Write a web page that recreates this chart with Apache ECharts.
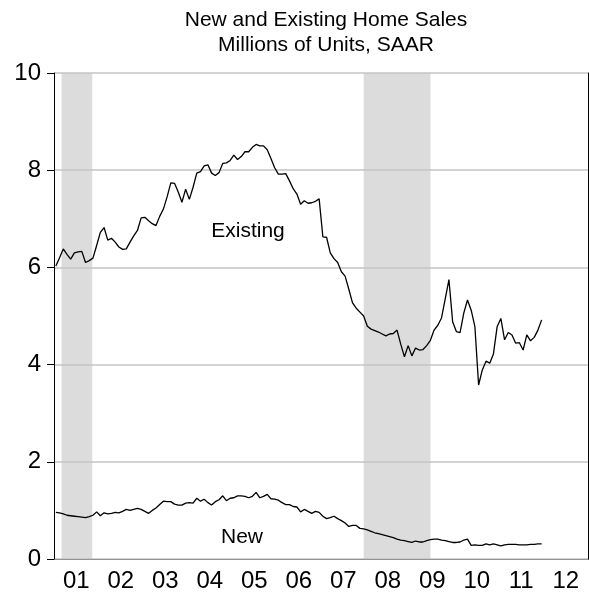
<!DOCTYPE html>
<html>
<head>
<meta charset="utf-8">
<script src="https://cdn.jsdelivr.net/npm/echarts@6/dist/echarts.min.js"></script>
<style>
  html, body { margin: 0; padding: 0; background: #fff; }
  #output { width: 589px; height: 597px; }
</style>
</head>
<body>
<div id="output"></div>
<script>
const chart = echarts.init(document.getElementById('output'));

// year labels on the x axis (one per calendar year)
const yearLabels = ['01', '02', '03', '04', '05', '06', '07', '08', '09', '10', '11', '12'];
const firstYear = 2001;

// existing home sales, monthly Jan 2001 - Dec 2011, millions SAAR
const existing = [
  6.03, 6.20, 6.38, 6.27, 6.17, 6.30, 6.32, 6.33, 6.10, 6.14, 6.19, 6.45,
  6.72, 6.82, 6.56, 6.60, 6.52, 6.42, 6.37, 6.38, 6.52, 6.65, 6.76, 7.02,
  7.03, 6.96, 6.90, 6.86, 7.05, 7.20, 7.45, 7.74, 7.73, 7.55, 7.34, 7.61,
  7.40, 7.65, 7.94, 7.97, 8.09, 8.11, 7.94, 7.89, 7.95, 8.14, 8.15, 8.20,
  8.31, 8.22, 8.28, 8.38, 8.38, 8.47, 8.53, 8.50, 8.50, 8.42, 8.24, 8.05,
  7.92, 7.92, 7.93, 7.78, 7.62, 7.51, 7.30, 7.37, 7.32, 7.33, 7.36, 7.41,
  6.63, 6.62, 6.30, 6.18, 6.10, 5.91, 5.82, 5.55, 5.27, 5.16, 5.08, 5.00,
  4.79, 4.73, 4.70, 4.67, 4.63, 4.59, 4.63, 4.64, 4.71, 4.42, 4.16, 4.39,
  4.18, 4.34, 4.30, 4.31, 4.39, 4.50, 4.71, 4.81, 4.96, 5.35, 5.75, 4.88,
  4.68, 4.66, 5.06, 5.33, 5.12, 4.78, 3.58, 3.89, 4.07, 4.03, 4.22, 4.78,
  4.95, 4.51, 4.66, 4.61, 4.44, 4.45, 4.30, 4.61, 4.49, 4.56, 4.71, 4.92
];

// new home sales, monthly Jan 2001 - Dec 2011, millions SAAR
const newSales = [
  0.96, 0.95, 0.93, 0.90, 0.89, 0.88, 0.87, 0.86, 0.85, 0.87, 0.90, 0.97,
  0.89, 0.95, 0.93, 0.94, 0.96, 0.95, 0.98, 1.02, 1.00, 1.02, 1.04, 1.02,
  0.98, 0.94, 1.00, 1.05, 1.12, 1.19, 1.18, 1.18, 1.13, 1.11, 1.11, 1.15,
  1.16, 1.15, 1.25, 1.19, 1.23, 1.16, 1.11, 1.18, 1.22, 1.30, 1.20, 1.25,
  1.26, 1.30, 1.30, 1.29, 1.26, 1.29, 1.37, 1.26, 1.29, 1.33, 1.24, 1.23,
  1.21, 1.16, 1.12, 1.12, 1.08, 1.07, 0.97, 1.02, 0.98, 0.94, 0.98, 0.96,
  0.88, 0.83, 0.85, 0.88, 0.83, 0.79, 0.74, 0.67, 0.69, 0.69, 0.63, 0.62,
  0.60, 0.57, 0.54, 0.52, 0.50, 0.48, 0.46, 0.44, 0.41, 0.39, 0.38, 0.36,
  0.34, 0.37, 0.35, 0.35, 0.38, 0.40, 0.41, 0.41, 0.39, 0.38, 0.36, 0.34,
  0.34, 0.35, 0.39, 0.41, 0.28, 0.29, 0.28, 0.28, 0.31, 0.29, 0.31, 0.29,
  0.27, 0.29, 0.30, 0.30, 0.30, 0.29, 0.29, 0.29, 0.30, 0.30, 0.31, 0.31
];

// recessions (decimal years)
const recessions = [[2001.17, 2001.86], [2007.96, 2009.46]];

function toPoints (values) {
  return values.map((v, i) => [firstYear + (i + 0.5) / 12, v]);
}

const font = 'Liberation Sans, Arial, sans-serif';

chart.setOption({
  animation: false,
  title: {
    text: 'New and Existing Home Sales\nMillions of Units, SAAR',
    left: 321,
    textAlign: 'center',
    top: 3,
    textStyle: { fontFamily: font, fontSize: 21, fontWeight: 'normal', color: '#000', lineHeight: 25 }
  },
  grid: { left: 54, right: 1, top: 73, bottom: 38 },
  xAxis: [
    {
      type: 'category',
      data: yearLabels,
      boundaryGap: true,
      axisLine: { lineStyle: { color: '#000', width: 1 } },
      axisTick: { length: 7, interval: 0, lineStyle: { color: '#000' } },
      axisLabel: { fontFamily: font, fontSize: 24, color: '#000', margin: 10, interval: 0 },
      splitLine: { show: false }
    },
    {
      type: 'value',
      min: 2001,
      max: 2013,
      show: false
    }
  ],
  yAxis: [
    {
      type: 'value',
      min: 0,
      max: 10,
      interval: 2,
      z: 3,
      axisLine: { show: true, lineStyle: { color: '#000', width: 1 } },
      axisTick: { show: true, length: 7, lineStyle: { color: '#000' } },
      axisLabel: { fontFamily: font, fontSize: 24, color: '#000', margin: 13 },
      splitLine: { lineStyle: { color: '#c4c4c4', width: 1.5 } }
    },
    {
      type: 'value',
      position: 'right',
      min: 0,
      max: 10,
      axisLine: { show: true, lineStyle: { color: '#000', width: 1 } },
      axisTick: { show: false },
      axisLabel: { show: false },
      splitLine: { show: false }
    }
  ],
  series: [
    {
      name: 'recessions',
      type: 'line',
      xAxisIndex: 1,
      data: [],
      z: 1,
      markArea: {
        silent: true,
        itemStyle: { color: '#dcdcdc' },
        data: recessions.map(r => [{ xAxis: r[0] }, { xAxis: r[1] }])
      }
    },
    {
      name: 'Existing',
      type: 'line',
      xAxisIndex: 1,
      data: toPoints(existing),
      showSymbol: false,
      z: 5,
      lineStyle: { color: '#000', width: 1.3 }
    },
    {
      name: 'New',
      type: 'line',
      xAxisIndex: 1,
      data: toPoints(newSales),
      showSymbol: false,
      z: 5,
      lineStyle: { color: '#000', width: 1.3 }
    }
  ],
  graphic: [
    {
      type: 'text',
      x: 248,
      y: 231,
      z: 10,
      style: { text: 'Existing', fontFamily: font, fontSize: 21, fill: '#000', align: 'center', verticalAlign: 'middle' }
    },
    {
      type: 'text',
      x: 242,
      y: 537,
      z: 10,
      style: { text: 'New', fontFamily: font, fontSize: 21, fill: '#000', align: 'center', verticalAlign: 'middle' }
    }
  ]
});
</script>
</body>
</html>
